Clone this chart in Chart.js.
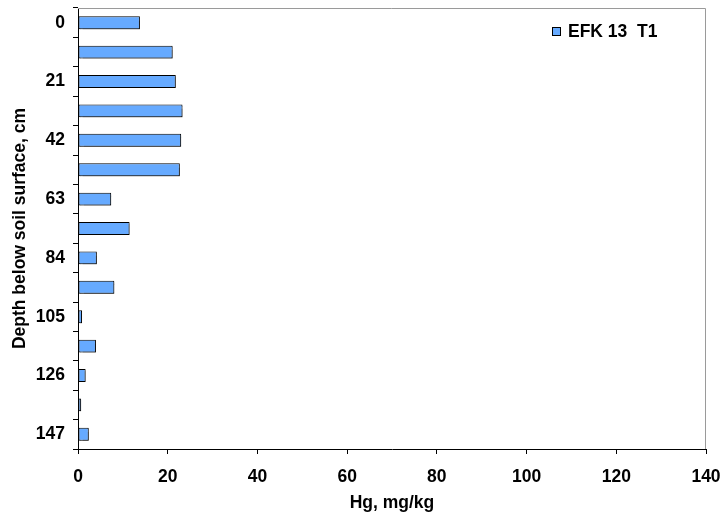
<!DOCTYPE html>
<html>
<head>
<meta charset="utf-8">
<script src="https://cdn.jsdelivr.net/npm/chart.js@4"></script>
<style>
html,body{margin:0;padding:0;background:#fff;}
#wrap{position:relative;width:725px;height:518px;}
</style>
</head>
<body>
<div id="wrap"><canvas id="c" width="725" height="518"></canvas></div>
<script>
const depths = ['0','10.5','21','31.5','42','52.5','63','73.5','84','94.5','105','115.5','126','136.5','147'];
const hgValues = [13.8, 21.1, 21.8, 23.3, 23.0, 22.7, 7.4, 11.5, 4.2, 8.1, 0.9, 4.0, 1.7, 0.7, 2.4];
const shownDepthLabels = ['0','21','42','63','84','105','126','147'];
const seriesName = 'EFK 13  T1';
const xTitle = 'Hg, mg/kg';
const yTitle = 'Depth below soil surface, cm';

const FONT = "'Liberation Sans', Arial, sans-serif";
const barColor = '#66AAFF';
const FS = 17.5;

const shadowPlugin = {
  id: 'barShadow',
  beforeDatasetDraw(chart) {
    const ctx = chart.ctx;
    ctx.save();
    ctx.shadowColor = 'rgba(0,0,0,0.35)';
    ctx.shadowOffsetX = 1.5;
    ctx.shadowOffsetY = 1.5;
    ctx.shadowBlur = 1;
  },
  afterDatasetDraw(chart) { chart.ctx.restore(); }
};

const framePlugin = {
  id: 'frame',
  afterDraw(chart) {
    const {ctx, chartArea: a} = chart;
    ctx.save();
    ctx.strokeStyle = '#9a9a9a';
    ctx.lineWidth = 1;
    ctx.beginPath();
    ctx.moveTo(a.left, a.top + 0.5);
    ctx.lineTo(a.right - 0.5, a.top + 0.5);
    ctx.lineTo(a.right - 0.5, a.bottom);
    ctx.stroke();
    // legend
    ctx.fillStyle = barColor;
    ctx.fillRect(552.5, 27.5, 8, 8);
    ctx.strokeStyle = '#000';
    ctx.strokeRect(552.5, 27.5, 8, 8);
    ctx.fillStyle = '#000';
    ctx.font = 'bold 17.5px ' + FONT;
    ctx.textBaseline = 'middle';
    ctx.textAlign = 'left';
    ctx.fillText(seriesName, 568, 32);
    ctx.restore();
  }
};

new Chart(document.getElementById('c'), {
  type: 'bar',
  data: {
    labels: depths,
    datasets: [{
      label: seriesName,
      data: hgValues,
      backgroundColor: barColor,
      borderColor: '#000',
      borderWidth: 1,
      borderSkipped: false,
      categoryPercentage: 1,
      barPercentage: 0.44
    }]
  },
  options: {
    indexAxis: 'y',
    responsive: false,
    animation: false,
    devicePixelRatio: 1,
    layout: {padding: {top: 8, right: 19, left: 10, bottom: 0}},
    plugins: {legend: {display: false}, tooltip: {enabled: false}},
    scales: {
      x: {
        min: 0, max: 140,
        ticks: {stepSize: 20, color: '#000', padding: 13, font: {family: FONT, size: FS, weight: 'bold'}},
        grid: {drawOnChartArea: false, drawTicks: true, tickLength: 5, color: '#000'},
        border: {color: '#000', width: 1},
        title: {display: true, text: xTitle, color: '#000', padding: {top: 0, bottom: 4}, font: {family: FONT, size: FS, weight: 'bold'}},
        afterFit(s) { s.height = 69; s.paddingLeft = 0; s.paddingRight = 0; }
      },
      y: {
        ticks: {
          color: '#000', padding: 8, autoSkip: false,
          font: {family: FONT, size: FS, weight: 'bold'},
          callback(v, i) { const l = depths[i]; return shownDepthLabels.includes(l) ? l : ''; }
        },
        grid: {drawOnChartArea: false, drawTicks: true, tickLength: 5, color: '#000', offset: true},
        border: {color: '#000', width: 1},
        title: {display: true, text: yTitle, color: '#000', padding: {top: 0, bottom: 4}, font: {family: FONT, size: FS, weight: 'bold'}},
        afterFit(s) { s.width = 68; s.paddingTop = 0; s.paddingBottom = 0; }
      }
    }
  },
  plugins: [shadowPlugin, framePlugin]
});
</script>
</body>
</html>
